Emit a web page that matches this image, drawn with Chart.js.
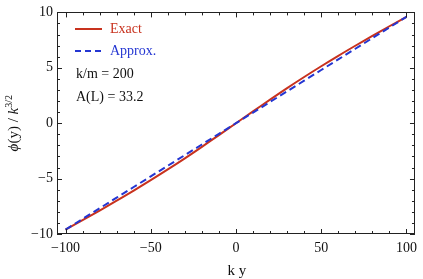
<!DOCTYPE html>
<html>
<head>
<meta charset="utf-8">
<script src="https://cdn.jsdelivr.net/npm/chart.js@4.4.1/dist/chart.umd.min.js"></script>
<style>
  html, body { margin: 0; padding: 0; background: #fff; }
  #wrap { width: 423px; height: 279px; }
</style>
</head>
<body>
<div id="wrap"><canvas id="phiChart" width="423" height="279"></canvas></div>
<script>
// ===== DATA =====
const kY = [-100, -90, -80, -70, -60, -50, -40, -30, -20, -10, 0, 10, 20, 30, 40, 50, 60, 70, 80, 90, 100];
const exactPhi = [-9.6, -8.75, -7.88, -6.99, -6.08, -5.14, -4.17, -3.17, -2.13, -1.07, 0, 1.07, 2.13, 3.17, 4.17, 5.14, 6.08, 6.99, 7.88, 8.75, 9.6];
const approxPhi = [-9.6, -8.64, -7.68, -6.72, -5.76, -4.8, -3.84, -2.88, -1.92, -0.96, 0, 0.96, 1.92, 2.88, 3.84, 4.8, 5.76, 6.72, 7.68, 8.64, 9.6];
const xTicks = [-100, -50, 0, 50, 100];
const yTicks = [-10, -5, 0, 5, 10];
const seriesNames = ['Exact', 'Approx.'];
const notes = ['k/m = 200', 'A(L) = 33.2'];

const RED = '#c8321e';
const BLUE = '#2436d2';
const SERIF = '"Liberation Serif", "DejaVu Serif", serif';

function toPoints(xs, ys) {
    return xs.map((x, i) => ({ x: x, y: ys[i] }));
}

function minusSign(v) {
    return String(v).replace('-', '\u2212');
}

// frame, inward ticks, titles and legend box
const framePlugin = {
    id: 'frame',
    afterDraw(chart) {
        const ctx = chart.ctx;
        const a = chart.chartArea;
        const xs = chart.scales.x;
        const ys = chart.scales.y;
        ctx.save();
        ctx.strokeStyle = '#222';
        ctx.lineWidth = 1;
        ctx.strokeRect(Math.round(a.left) + 0.5, Math.round(a.top) + 0.5,
            Math.round(a.right - a.left) - 1, Math.round(a.bottom - a.top) - 1);

        ctx.beginPath();
        for (let v = -100; v <= 100; v += 10) {
            const px = Math.round(xs.getPixelForValue(v)) + 0.5;
            const len = v % 50 === 0 ? 5 : 3;
            ctx.moveTo(px, a.bottom); ctx.lineTo(px, a.bottom - len);
            ctx.moveTo(px, a.top); ctx.lineTo(px, a.top + len);
        }
        for (let v = -10; v <= 10; v += 1) {
            const py = Math.round(ys.getPixelForValue(v)) + 0.5;
            const len = v % 5 === 0 ? 5 : 3;
            ctx.moveTo(a.left, py); ctx.lineTo(a.left + len, py);
            ctx.moveTo(a.right, py); ctx.lineTo(a.right - len, py);
        }
        ctx.stroke();

        // x title
        ctx.fillStyle = '#111';
        ctx.font = '15px ' + SERIF;
        ctx.textAlign = 'center';
        ctx.textBaseline = 'middle';
        ctx.fillText('k y', (a.left + a.right) / 2 + 1, 271);

        // y title: phi(y) / k^{3/2}
        const parts = [
            { t: '\u03d5', f: 'italic 15px ' + SERIF, dy: 0 },
            { t: '(y) / ', f: '15px ' + SERIF, dy: 0 },
            { t: 'k', f: 'italic 15px ' + SERIF, dy: 0 },
            { t: '3/2', f: '10px ' + SERIF, dy: -6 }
        ];
        let total = 0;
        parts.forEach(p => { ctx.font = p.f; p.w = ctx.measureText(p.t).width; total += p.w; });
        ctx.translate(13, (a.top + a.bottom) / 2);
        ctx.rotate(-Math.PI / 2);
        ctx.textAlign = 'left';
        ctx.textBaseline = 'alphabetic';
        let cx = -total / 2;
        parts.forEach(p => {
            ctx.font = p.f;
            ctx.fillText(p.t, cx, 5 + p.dy);
            cx += p.w;
        });
        ctx.setTransform(1, 0, 0, 1, 0, 0);

        // legend
        ctx.lineWidth = 2;
        ctx.strokeStyle = RED;
        ctx.beginPath(); ctx.moveTo(75, 29); ctx.lineTo(102, 29); ctx.stroke();
        ctx.strokeStyle = BLUE;
        ctx.setLineDash([6, 4]);
        ctx.beginPath(); ctx.moveTo(75, 51); ctx.lineTo(102, 51); ctx.stroke();
        ctx.setLineDash([]);
        ctx.font = '14px ' + SERIF;
        ctx.textAlign = 'left';
        ctx.textBaseline = 'middle';
        ctx.fillStyle = RED;
        ctx.fillText(seriesNames[0], 110, 29);
        ctx.fillStyle = BLUE;
        ctx.fillText(seriesNames[1], 110, 51);
        ctx.fillStyle = '#111';
        ctx.fillText(notes[0], 76, 74);
        ctx.fillText(notes[1], 76, 97);
        ctx.restore();
    }
};

function initializeChart() {
    const ctx = document.getElementById('phiChart');
    new Chart(ctx, {
        type: 'line',
        data: {
            datasets: [{
                label: seriesNames[1],
                data: toPoints(kY, approxPhi),
                borderColor: BLUE,
                borderWidth: 2,
                borderDash: [7, 4],
                pointRadius: 0,
                fill: false,
                order: 0
            }, {
                label: seriesNames[0],
                data: toPoints(kY, exactPhi),
                borderColor: RED,
                borderWidth: 2,
                pointRadius: 0,
                tension: 0.4,
                fill: false,
                order: 1
            }]
        },
        options: {
            responsive: false,
            animation: false,
            devicePixelRatio: 1,
            layout: { padding: { top: 9, right: 2, left: 0, bottom: 0 } },
            plugins: {
                legend: { display: false },
                tooltip: { enabled: false }
            },
            scales: {
                x: {
                    type: 'linear',
                    min: -105,
                    max: 105,
                    border: { display: false },
                    grid: { display: false, drawTicks: false },
                    afterBuildTicks: s => { s.ticks = xTicks.map(v => ({ value: v })); },
                    afterFit: s => { s.height = 45; },
                    ticks: {
                        padding: 6,
                        color: '#111',
                        font: { family: SERIF, size: 14 },
                        maxRotation: 0,
                        callback: v => minusSign(v)
                    }
                },
                y: {
                    min: -10,
                    max: 10,
                    border: { display: false },
                    grid: { display: false, drawTicks: false },
                    afterBuildTicks: s => { s.ticks = yTicks.map(v => ({ value: v })); },
                    afterFit: s => { s.width = 57; },
                    ticks: {
                        padding: 4,
                        color: '#111',
                        font: { family: SERIF, size: 14 },
                        callback: v => minusSign(v)
                    }
                }
            }
        },
        plugins: [framePlugin]
    });
}

initializeChart();
</script>
</body>
</html>
